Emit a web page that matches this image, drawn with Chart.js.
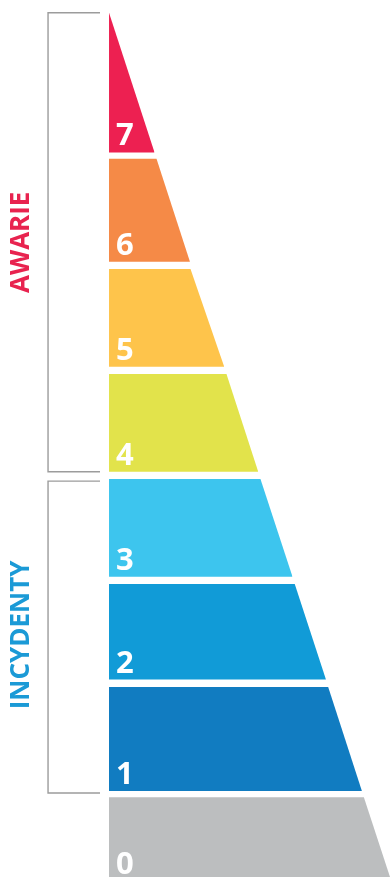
<!DOCTYPE html>
<html><head><meta charset="utf-8">
<script src="https://cdn.jsdelivr.net/npm/chart.js@4/dist/chart.umd.min.js"></script>
<style>html,body{margin:0;padding:0;background:#fff}#c{display:block}</style>
</head><body>
<canvas id="c" width="390" height="877"></canvas>
<script>
// Levels of the pyramid (bottom to top)
const levels = ['0', '1', '2', '3', '4', '5', '6', '7'];
// Vertical extent of each band, in level units
const bandBottom = [-0.04, 0.82, 1.88, 2.86, 3.86, 4.86, 5.86, 6.90];
const bandTop    = [0.76, 1.81, 2.79, 3.79, 4.79, 5.79, 6.84, 8.23];
// Width of the pyramid (fraction of base width) at each band's bottom and top
const widthBottom = [1.005, 0.900, 0.772, 0.653, 0.531, 0.410, 0.288, 0.162];
const widthTop    = [0.907, 0.780, 0.661, 0.539, 0.418, 0.290, 0.169, 0.000];
const bandColors = ['#BCBEBF', '#117CC1', '#119BD7', '#3DC5EE', '#E2E34B', '#FEC44B', '#F58A47', '#ED2051'];
// Groups shown with brackets on the left
const groupNames  = ['AWARIE', 'INCYDENTY'];
const groupFrom   = [4, 1];
const groupTo     = [7, 3];
const groupColors = ['#E8234F', '#1B9AD6'];

const BRACKET_X = -0.217, BRACKET_END = -0.032, LABEL_X = -0.32;

const datasets = [];
levels.forEach((lv, i) => {
  datasets.push({
    label: 'Poziom ' + lv,
    data: [
      {x: 0, y: bandTop[i]},
      {x: widthTop[i], y: bandTop[i]},
      {x: widthBottom[i], y: bandBottom[i]}
    ],
    backgroundColor: bandColors[i],
    borderWidth: 0,
    fill: {value: bandBottom[i]},
    pointRadius: 0
  });
});
groupNames.forEach((g, k) => {
  const top = bandTop[groupTo[k]] - (k === 1 ? 0.02 : 0);
  const bot = bandBottom[groupFrom[k]] - (k === 1 ? 0.02 : 0);
  datasets.push({
    label: g,
    data: [
      {x: BRACKET_END, y: top}, {x: BRACKET_X, y: top},
      {x: BRACKET_X, y: bot}, {x: BRACKET_END, y: bot}
    ],
    borderColor: '#9C9C9C',
    borderWidth: 1.4,
    fill: false,
    pointRadius: 0,
    tension: 0
  });
});

const labelPlugin = {
  id: 'labels',
  afterDatasetsDraw(chart) {
    const ctx = chart.ctx, xs = chart.scales.x, ys = chart.scales.y;
    ctx.save();
    ctx.fillStyle = '#fff';
    ctx.font = 'bold 31px "Open Sans"';
    ctx.textAlign = 'left';
    ctx.textBaseline = 'alphabetic';
    levels.forEach((lv, i) => {
      const base = Math.min(ys.getPixelForValue(bandBottom[i]), chart.chartArea.bottom + 4);
      ctx.fillText(lv, xs.getPixelForValue(0) + 7, base - 7);
    });
    groupNames.forEach((g, k) => {
      const yc = (ys.getPixelForValue(bandTop[groupTo[k]]) + ys.getPixelForValue(bandBottom[groupFrom[k]])) / 2;
      ctx.save();
      ctx.translate(xs.getPixelForValue(LABEL_X) + 10, yc);
      ctx.rotate(-Math.PI / 2);
      ctx.fillStyle = groupColors[k];
      ctx.font = 'bold 26px "Open Sans"';
      ctx.textAlign = 'center';
      ctx.textBaseline = 'alphabetic';
      ctx.fillText(g, 0, 0);
      ctx.restore();
    });
    ctx.restore();
  }
};

new Chart(document.getElementById('c'), {
  type: 'line',
  data: {datasets},
  options: {
    responsive: false,
    animation: false,
    devicePixelRatio: 1,
    events: [],
    layout: {padding: 0},
    plugins: {legend: {display: false}, tooltip: {enabled: false}},
    scales: {
      x: {type: 'linear', min: -0.388, max: 1.0, display: false},
      y: {type: 'linear', min: 0, max: 8.352, display: false}
    }
  },
  plugins: [labelPlugin]
});
</script>
</body></html>
